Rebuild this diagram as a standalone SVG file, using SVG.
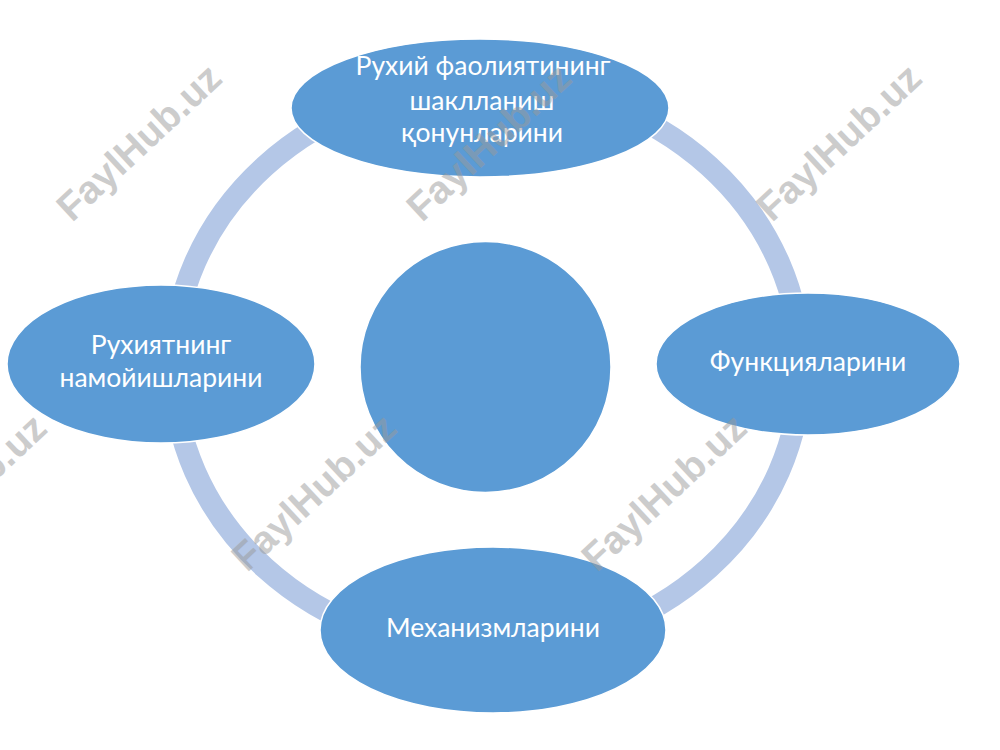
<svg xmlns="http://www.w3.org/2000/svg" width="1000" height="750" viewBox="0 0 1000 750">
<style>
.node{fill:#5b9bd5;stroke:#ffffff;stroke-width:1.5}
.lbl{font-family:Lato,"Liberation Sans",sans-serif;font-size:26.5px;fill:#ffffff;text-anchor:middle}
.ring{fill:none;stroke:#b4c7e7;stroke-width:22}
.wm{font-family:"Liberation Sans",Arial,sans-serif;font-weight:bold;font-size:39px;fill:#9a9a9a;opacity:0.5;text-anchor:middle}
</style>
<rect width="1000" height="750" fill="#ffffff"/>
<g id="connectors">
<ellipse class="ring" cx="487" cy="367" rx="314" ry="284"/>
</g>
<g id="center">
<circle class="node" cx="485.5" cy="367" r="125.5"/>
</g>
<g id="node-top">
<ellipse class="node" cx="480" cy="108" rx="189" ry="69"/>
<text class="lbl" x="483" y="75">Рухий фаолиятининг</text>
<text class="lbl" x="482" y="110">шаклланиш</text>
<text class="lbl" x="482" y="142">қонунларини</text>
</g>
<g id="node-right">
<ellipse class="node" cx="808" cy="364" rx="152" ry="71"/>
<text class="lbl" x="808" y="371">Функцияларини</text>
</g>
<g id="node-bottom">
<ellipse class="node" cx="493" cy="630" rx="173" ry="83"/>
<text class="lbl" x="493" y="637">Механизмларини</text>
</g>
<g id="node-left">
<ellipse class="node" cx="161" cy="364" rx="154" ry="79"/>
<text class="lbl" x="161" y="354">Рухиятнинг</text>
<text class="lbl" x="161" y="387">намойишларини</text>
</g>
<g id="watermarks">
<text class="wm" transform="translate(148,152) rotate(-43)">FaylHub.uz</text>
<text class="wm" transform="translate(498,152) rotate(-43)">FaylHub.uz</text>
<text class="wm" transform="translate(848,152) rotate(-43)">FaylHub.uz</text>
<text class="wm" transform="translate(-27,502) rotate(-43)">FaylHub.uz</text>
<text class="wm" transform="translate(323,502) rotate(-43)">FaylHub.uz</text>
<text class="wm" transform="translate(673,502) rotate(-43)">FaylHub.uz</text>
</g>
</svg>
